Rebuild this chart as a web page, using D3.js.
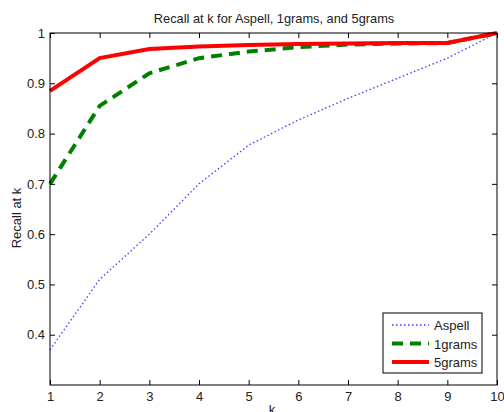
<!DOCTYPE html>
<html>
<head>
<meta charset="utf-8">
<script src="https://d3js.org/d3.v7.min.js"></script>
<style>
  body { margin: 0; background: #fff; }
  svg { display: block; }
  text { font-family: "Liberation Sans", Arial, sans-serif; fill: #222; }
  .axis path, .axis line { stroke: #000; }
</style>
</head>
<body>
<svg id="canvas" width="504" height="412"></svg>
<script>
  // data
  const ks = [1, 2, 3, 4, 5, 6, 7, 8, 9, 10];
  const aspell = [0.37, 0.51, 0.60, 0.70, 0.777, 0.827, 0.87, 0.91, 0.95, 1.0];
  const grams1 = [0.70, 0.855, 0.92, 0.95, 0.963, 0.972, 0.977, 0.979, 0.98, 1.0];
  const grams5 = [0.885, 0.95, 0.968, 0.973, 0.976, 0.978, 0.979, 0.98, 0.98, 1.0];
  const yTicks = [0.4, 0.5, 0.6, 0.7, 0.8, 0.9, 1];

  const series = [
    { name: "Aspell", values: aspell, color: "#3d3dff", width: 1.3, dash: "1.5,2.5" },
    { name: "1grams", values: grams1, color: "#008000", width: 4, dash: "11,7" },
    { name: "5grams", values: grams5, color: "#ff0000", width: 4, dash: null }
  ];

  const svg = d3.select("svg");
  const m = { left: 50, right: 497, top: 33, bottom: 385 };

  const x = d3.scaleLinear().domain([1, 10]).range([m.left, m.right]);
  const y = d3.scaleLinear().domain([0.3, 1]).range([m.bottom, m.top]);

  // lines
  const line = d3.line().x((d, i) => x(ks[i])).y(d => y(d));
  series.forEach(s => {
    svg.append("path")
      .attr("d", line(s.values))
      .attr("fill", "none")
      .attr("stroke", s.color)
      .attr("stroke-width", s.width)
      .attr("stroke-dasharray", s.dash);
  });

  // box and ticks (matlab style: inward ticks on all sides)
  svg.append("rect")
    .attr("x", m.left).attr("y", m.top)
    .attr("width", m.right - m.left).attr("height", m.bottom - m.top)
    .attr("fill", "none").attr("stroke", "#000").attr("stroke-width", 1);

  const xAxis = svg.append("g").attr("class", "axis")
    .attr("transform", `translate(0,${m.bottom})`)
    .call(d3.axisBottom(x).tickValues(ks).tickSize(-5).tickPadding(7).tickFormat(d3.format("d")));
  const xTop = svg.append("g").attr("class", "axis")
    .attr("transform", `translate(0,${m.top})`)
    .call(d3.axisTop(x).tickValues(ks).tickSize(-5).tickFormat(""));
  const yAxis = svg.append("g").attr("class", "axis")
    .attr("transform", `translate(${m.left},0)`)
    .call(d3.axisLeft(y).tickValues(yTicks).tickSize(-5).tickPadding(5).tickFormat(d => d === 1 ? "1" : d3.format(".1f")(d)));
  const yRight = svg.append("g").attr("class", "axis")
    .attr("transform", `translate(${m.right},0)`)
    .call(d3.axisRight(y).tickValues(yTicks).tickSize(-5).tickFormat(""));

  [xAxis, xTop, yAxis, yRight].forEach(g => g.select(".domain").remove());
  svg.selectAll(".axis text").style("font-size", "13px").attr("fill", "#222");

  // titles (the k label sits at the bottom edge, clipped as in the original)
  svg.append("text").attr("x", 274).attr("y", 23)
    .attr("text-anchor", "middle").style("font-size", "12.8px")
    .text("Recall at k for Aspell, 1grams, and 5grams");
  svg.append("text").attr("x", 272).attr("y", 414)
    .attr("text-anchor", "middle").style("font-size", "13px").text("k");
  svg.append("text")
    .attr("transform", `translate(21,218) rotate(-90)`)
    .attr("text-anchor", "middle").style("font-size", "13px").text("Recall at k");

  // legend
  const lg = svg.append("g").attr("transform", "translate(383,313)");
  lg.append("rect").attr("width", 99).attr("height", 60)
    .attr("fill", "#fff").attr("stroke", "#000");
  series.forEach((s, i) => {
    const yy = 12 + i * 18.5;
    lg.append("line").attr("x1", 9).attr("x2", 46).attr("y1", yy).attr("y2", yy)
      .attr("stroke", s.color).attr("stroke-width", s.width)
      .attr("stroke-dasharray", s.dash);
    lg.append("text").attr("x", 51).attr("y", yy + 5)
      .style("font-size", "13px").text(s.name);
  });
</script>
</body>
</html>
